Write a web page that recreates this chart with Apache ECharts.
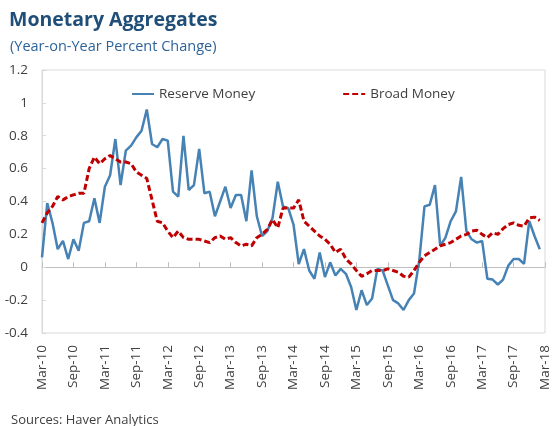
<!DOCTYPE html>
<html>
<head>
<meta charset="utf-8">
<script src="https://cdn.jsdelivr.net/npm/echarts@6/dist/echarts.min.js"></script>
<style>
  html, body { margin: 0; padding: 0; background: #fff; }
  #chart { width: 552px; height: 426px; }
</style>
</head>
<body>
<div id="chart"></div>
<script>
// months Mar-10 .. Mar-18
var monthNames = ['Jan', 'Feb', 'Mar', 'Apr', 'May', 'Jun', 'Jul', 'Aug', 'Sep', 'Oct', 'Nov', 'Dec'];
var months = [];
for (var k = 2; k <= 2 + 96; k++) {
  var yr = 10 + Math.floor(k / 12);
  months.push(monthNames[k % 12] + '-' + yr);
}

var reserveMoney = [
  0.06, 0.39, 0.27, 0.11, 0.16, 0.05, 0.17, 0.10, 0.27, 0.28,
  0.42, 0.27, 0.49, 0.56, 0.78, 0.50, 0.71, 0.74, 0.79, 0.83,
  0.96, 0.75, 0.73, 0.78, 0.77, 0.46, 0.43, 0.80, 0.47, 0.50,
  0.72, 0.45, 0.46, 0.31, 0.40, 0.49, 0.36, 0.44, 0.44, 0.28,
  0.59, 0.31, 0.19, 0.22, 0.30, 0.52, 0.37, 0.36, 0.26, 0.02,
  0.11, -0.02, -0.07, 0.09, -0.06, 0.03, -0.05, -0.01, -0.04, -0.12,
  -0.26, -0.14, -0.23, -0.19, -0.01, -0.02, -0.11, -0.20, -0.22, -0.26,
  -0.20, -0.16, 0.04, 0.37, 0.38, 0.50, 0.13, 0.18, 0.28, 0.34,
  0.55, 0.22, 0.17, 0.15, 0.16, -0.07, -0.075, -0.105, -0.075, 0.01,
  0.05, 0.05, 0.02, 0.28, 0.19, 0.11
];

var broadMoney = [
  0.27, 0.33, 0.37, 0.43, 0.41, 0.43, 0.44, 0.45, 0.45, 0.60,
  0.67, 0.63, 0.66, 0.68, 0.66, 0.64, 0.64, 0.63, 0.58, 0.56,
  0.54, 0.41, 0.28, 0.27, 0.22, 0.18, 0.22, 0.18, 0.17, 0.17,
  0.17, 0.16, 0.15, 0.18, 0.19, 0.17, 0.18, 0.15, 0.13, 0.14,
  0.13, 0.18, 0.20, 0.23, 0.29, 0.24, 0.36, 0.36, 0.36, 0.41,
  0.28, 0.25, 0.22, 0.19, 0.17, 0.14, 0.09, 0.11, 0.05, 0.02,
  -0.02, -0.055, -0.04, -0.02, -0.02, -0.02, -0.01, -0.02, -0.03, -0.055,
  -0.06, -0.02, 0.03, 0.07, 0.09, 0.11, 0.13, 0.14, 0.15, 0.17,
  0.19, 0.20, 0.22, 0.225, 0.20, 0.18, 0.21, 0.20, 0.235, 0.26,
  0.27, 0.255, 0.25, 0.30, 0.305, 0.285
];

var fontFam = '"Open Sans", "Noto Sans", sans-serif';
var textColor = '#404040';

var myChart = echarts.init(document.getElementById('chart'));
var option = {
  animation: false,
  title: [
    {
      text: 'Monetary Aggregates',
      left: 4, top: 5,
      textStyle: { fontFamily: fontFam, fontSize: 19.5, fontWeight: 'bold', color: '#1F4E79' }
    },
    {
      text: '(Year-on-Year Percent Change)',
      left: 5, top: 34,
      textStyle: { fontFamily: fontFam, fontSize: 14.5, fontWeight: 'normal', color: '#2E6399' }
    },
    {
      text: 'Sources: Haver Analytics',
      left: 6, top: 409,
      textStyle: { fontFamily: fontFam, fontSize: 13, fontWeight: 'normal', color: textColor }
    }
  ],
  legend: {
    left: 126, top: 82,
    itemWidth: 22, itemHeight: 12, itemGap: 87,
    itemStyle: { opacity: 0 },
    textStyle: { fontFamily: fontFam, fontSize: 13.5, color: textColor },
    data: ['Reserve Money', 'Broad Money']
  },
  grid: {
    left: 42, right: 7, top: 70, bottom: 93,
    show: true, borderColor: '#D9D9D9', borderWidth: 1
  },
  xAxis: [
    {
      type: 'category', data: months, boundaryGap: false,
      axisLine: { onZero: true, lineStyle: { color: '#BFBFBF', width: 1 } },
      axisTick: { inside: true, length: 5, interval: 5, lineStyle: { color: '#BFBFBF' } },
      axisLabel: { show: false }
    },
    {
      type: 'category', data: months, boundaryGap: false, position: 'bottom',
      axisLine: { show: false, onZero: false },
      axisTick: { show: false },
      axisLabel: {
        rotate: 90, interval: 5, margin: 12,
        fontFamily: fontFam, fontSize: 13.5, color: textColor
      }
    }
  ],
  yAxis: {
    type: 'value', min: -0.4, max: 1.2, interval: 0.2,
    axisLine: { show: true, lineStyle: { color: '#D9D9D9' } },
    axisTick: { show: true, inside: true, length: 4, lineStyle: { color: '#D9D9D9' } },
    splitLine: { show: false },
    axisLabel: { margin: 14, fontFamily: fontFam, fontSize: 13.5, color: textColor }
  },
  series: [
    {
      name: 'Reserve Money', type: 'line', xAxisIndex: 0,
      data: reserveMoney, symbol: 'none',
      lineStyle: { color: '#4682B4', width: 2.5 },
      itemStyle: { color: '#4682B4' }
    },
    {
      name: 'Broad Money', type: 'line', xAxisIndex: 0,
      data: broadMoney, symbol: 'none',
      lineStyle: { color: '#C00000', width: 3, type: [6, 3] },
      itemStyle: { color: '#C00000' }
    }
  ]
};
myChart.setOption(option);
</script>
</body>
</html>
